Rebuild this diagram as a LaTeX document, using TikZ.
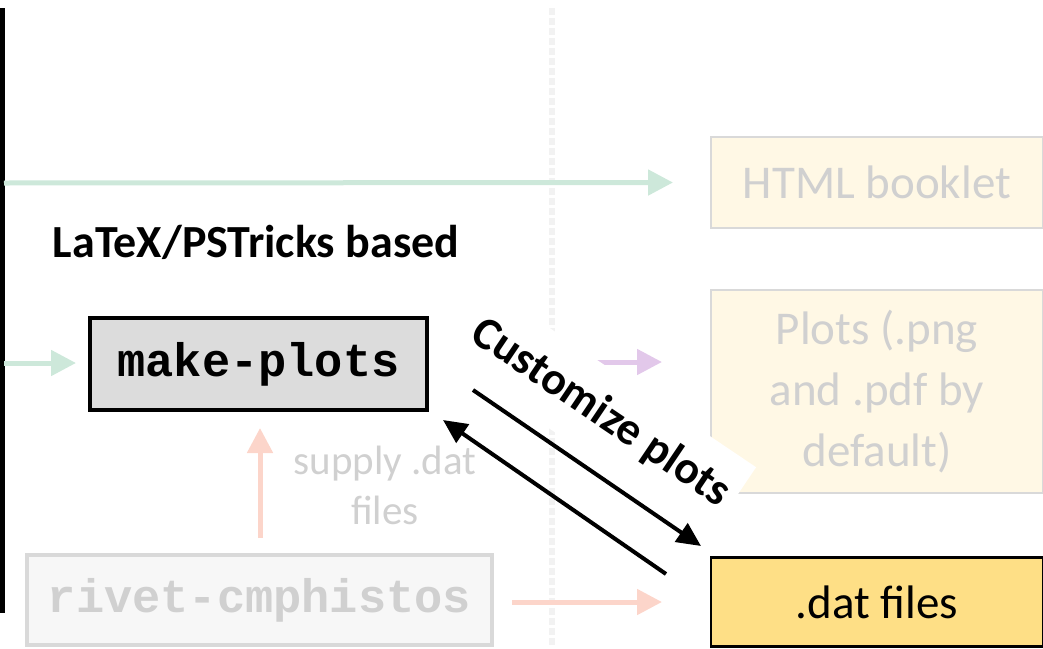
\documentclass[tikz,border=0pt]{standalone}
\usepackage{fontspec}
\setmainfont{Carlito}
\setmonofont{Liberation Mono}
\usetikzlibrary{arrows.meta}
\definecolor{flowgreen}{RGB}{205,232,218}
\definecolor{flowpink}{RGB}{252,213,202}
\definecolor{flowpurple}{RGB}{226,200,234}
\definecolor{creamfill}{RGB}{255,248,229}
\definecolor{lightborder}{RGB}{217,217,217}
\definecolor{fadedtext}{RGB}{208,208,208}
\definecolor{rivetfill}{RGB}{247,247,247}
\definecolor{mpfill}{RGB}{220,220,220}
\definecolor{datfill}{RGB}{254,223,134}
\definecolor{dotgray}{RGB}{242,242,242}
\begin{document}
\begin{tikzpicture}[x=1pt,y=-1pt,
  fadedbox/.style={draw=lightborder, line width=2.5pt, fill=creamfill, text=fadedtext,
    font=\fontsize{47}{61}\selectfont, align=center, inner sep=0pt, minimum width=332pt},
  toolbox/.style={line width=4pt, inner sep=0pt, font=\fontsize{47}{57}\ttfamily\bfseries},
  softarrow/.style={line width=5pt, -{Triangle[length=25pt,width=25pt]}},
  blackarrow/.style={line width=4pt, -{Triangle[length=24pt,width=22pt]}}
]
\useasboundingbox (0,0) rectangle (1043,648);
\clip (0,0) rectangle (1043,648);

% dotted separator
\draw[dotgray, line width=6pt, dash pattern=on 7pt off 3pt] (552,8) -- (552,648);

% left black bar
\coordinate (bartop) at (2.5,8);
\coordinate (barbot) at (2.5,613);
\draw[black, line width=4.5pt] (bartop) -- (barbot);
\coordinate (g1) at (4,183);
\coordinate (g2) at (4,363);

% boxes
\node[fadedbox, minimum height=91pt] (html) at (877,182.5) {HTML booklet};
\node[fadedbox, minimum height=203pt] (plots) at (877,391.5) {Plots (.png\\and .pdf by\\default)};
\node[draw=black, line width=2.5pt, fill=datfill, inner sep=0pt, minimum width=332pt,
  minimum height=89pt, font=\fontsize{47}{57}\selectfont] (dat) at (877,602) {.dat files};
\node[toolbox, draw=black, fill=mpfill, minimum width=337pt, minimum height=92pt] (mp) at (258.5,364) {make-plots};
\node[toolbox, draw=lightborder, fill=rivetfill, text=fadedtext, minimum width=465pt, minimum height=90pt] (rivet) at (259.5,600) {rivet-cmphistos};

\node[font=\fontsize{46}{55}\selectfont\bfseries] (latex) at (256,242) {LaTeX/PSTricks based};
\node[text=fadedtext, align=center, font=\fontsize{41}{50}\selectfont] (supply) at (385,485) {supply .dat\\files};

% soft arrows
\draw[softarrow, flowgreen] (g1) -- (html.west -| 673,0) coordinate (htip);
\draw[softarrow, flowgreen] (g2) -- (76,363);
\draw[softarrow, flowpink] (rivet.north -| 260,0) ++(0,-15) -- (260,428);
\draw[softarrow, flowpink] (512,602) -- (662,602);
\coordinate (pstart) at (590,362);
\draw[softarrow, flowpurple] (pstart) -- (662,362);

% customize label
\node[fill=white, rotate=-34, inner xsep=8pt, inner ysep=22pt, font=\fontsize{46}{54}\selectfont\bfseries] (cust) at (601,413) {Customize plots};

% black arrows
\coordinate (a1s) at (473,390);
\coordinate (a1e) at (701,546);
\coordinate (a2s) at (666,574);
\coordinate (a2e) at (443,420);
\draw[blackarrow] (a1s) -- (a1e);
\draw[blackarrow] (a2s) -- (a2e);
\end{tikzpicture}
\end{document}
